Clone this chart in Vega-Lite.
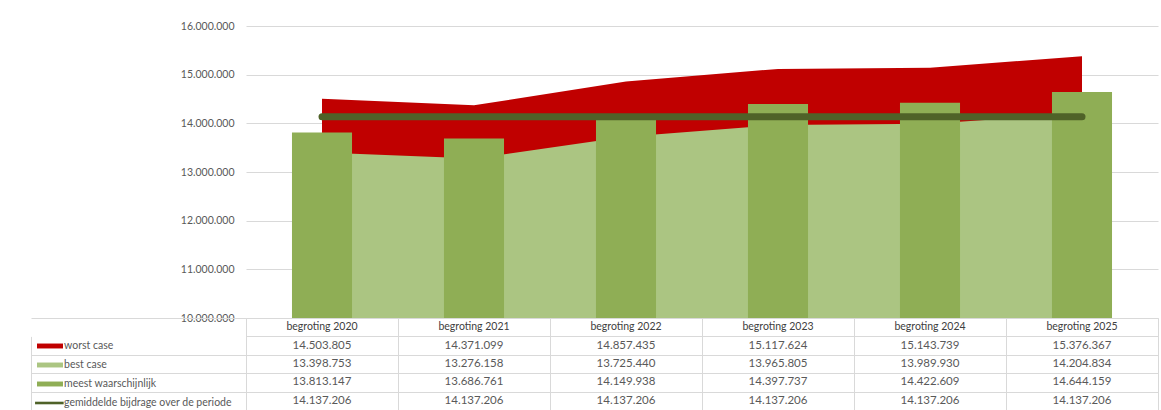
{
  "$schema": "https://vega.github.io/schema/vega-lite/v6.json",
  "padding": {"left": 30, "top": 21, "right": 4, "bottom": 0},
  "autosize": {"type": "pad"},
  "background": "white",
  "config": {
    "locale": {"number": {"decimal": ",", "thousands": ".", "grouping": [3], "currency": ["€", ""]}},
    "view": {"stroke": null},
    "font": "Lato"
  },
  "datasets": {
    "vals": [
      {"jaar": "begroting 2020", "reeks": "worst case", "waarde": 14503805},
      {"jaar": "begroting 2021", "reeks": "worst case", "waarde": 14371099},
      {"jaar": "begroting 2022", "reeks": "worst case", "waarde": 14857435},
      {"jaar": "begroting 2023", "reeks": "worst case", "waarde": 15117624},
      {"jaar": "begroting 2024", "reeks": "worst case", "waarde": 15143739},
      {"jaar": "begroting 2025", "reeks": "worst case", "waarde": 15376367},
      {"jaar": "begroting 2020", "reeks": "best case", "waarde": 13398753},
      {"jaar": "begroting 2021", "reeks": "best case", "waarde": 13276158},
      {"jaar": "begroting 2022", "reeks": "best case", "waarde": 13725440},
      {"jaar": "begroting 2023", "reeks": "best case", "waarde": 13965805},
      {"jaar": "begroting 2024", "reeks": "best case", "waarde": 13989930},
      {"jaar": "begroting 2025", "reeks": "best case", "waarde": 14204834},
      {"jaar": "begroting 2020", "reeks": "meest waarschijnlijk", "waarde": 13813147},
      {"jaar": "begroting 2021", "reeks": "meest waarschijnlijk", "waarde": 13686761},
      {"jaar": "begroting 2022", "reeks": "meest waarschijnlijk", "waarde": 14149938},
      {"jaar": "begroting 2023", "reeks": "meest waarschijnlijk", "waarde": 14397737},
      {"jaar": "begroting 2024", "reeks": "meest waarschijnlijk", "waarde": 14422609},
      {"jaar": "begroting 2025", "reeks": "meest waarschijnlijk", "waarde": 14644159},
      {"jaar": "begroting 2020", "reeks": "gemiddelde bijdrage over de periode", "waarde": 14137206},
      {"jaar": "begroting 2021", "reeks": "gemiddelde bijdrage over de periode", "waarde": 14137206},
      {"jaar": "begroting 2022", "reeks": "gemiddelde bijdrage over de periode", "waarde": 14137206},
      {"jaar": "begroting 2023", "reeks": "gemiddelde bijdrage over de periode", "waarde": 14137206},
      {"jaar": "begroting 2024", "reeks": "gemiddelde bijdrage over de periode", "waarde": 14137206},
      {"jaar": "begroting 2025", "reeks": "gemiddelde bijdrage over de periode", "waarde": 14137206}
    ]
  },
  "spacing": 0,
  "bounds": "flush",
  "resolve": {"scale": {"x": "independent", "y": "independent", "color": "independent"}, "legend": {"color": "independent"}},
  "vconcat": [
    {
      "width": 912,
      "height": 292,
      "data": {"name": "vals"},
      "encoding": {
        "x": {
          "field": "jaar", "type": "nominal",
          "scale": {"domain": ["begroting 2020", "begroting 2021", "begroting 2022", "begroting 2023", "begroting 2024", "begroting 2025"], "paddingInner": 0.605, "paddingOuter": 0.3025},
          "axis": null
        },
        "y": {
          "field": "waarde", "type": "quantitative",
          "scale": {"domain": [10000000, 16000000], "zero": false, "nice": false},
          "axis": {
            "values": [10000000, 11000000, 12000000, 13000000, 14000000, 15000000, 16000000],
            "format": ",d", "grid": true, "gridColor": "#d9d9d9", "domain": false, "ticks": false,
            "labelPadding": 12, "labelFontSize": 10.5, "labelColor": "#595959", "labelFont": "Lato", "title": null
          }
        }
      },
      "layer": [
        {
          "transform": [{"filter": "datum.reeks === 'worst case'"}],
          "mark": {"type": "area", "color": "#C00000"},
          "encoding": {"y2": {"datum": 10000000}}
        },
        {
          "transform": [{"filter": "datum.reeks === 'best case'"}],
          "mark": {"type": "area", "color": "#ABC582"},
          "encoding": {"y2": {"datum": 10000000}}
        },
        {
          "transform": [{"filter": "datum.reeks === 'meest waarschijnlijk'"}],
          "mark": {"type": "bar", "color": "#8FAE55"},
          "encoding": {"y2": {"datum": 10000000}}
        },
        {
          "transform": [{"filter": "datum.reeks === 'gemiddelde bijdrage over de periode'"}],
          "mark": {"type": "line", "color": "#4F6228", "strokeWidth": 7, "strokeCap": "round"},
          "encoding": {}
        }
      ]
    },
    {
      "width": 912,
      "height": 92,
      "data": {"name": "vals"},
      "encoding": {
        "x": {
          "field": "jaar", "type": "nominal",
          "scale": {"domain": ["begroting 2020", "begroting 2021", "begroting 2022", "begroting 2023", "begroting 2024", "begroting 2025"], "paddingInner": 0, "paddingOuter": 0},
          "axis": {"orient": "top", "labels": false, "ticks": false, "domain": false, "grid": true, "gridColor": "#d9d9d9", "tickBand": "extent", "title": null}
        },
        "y": {
          "field": "reeks", "type": "nominal",
          "scale": {"domain": ["hdr", "worst case", "best case", "meest waarschijnlijk", "gemiddelde bijdrage over de periode"], "paddingInner": 0, "paddingOuter": 0},
          "axis": {
            "labels": false, "grid": true, "gridColor": "#d9d9d9", "tickBand": "extent",
            "offset": 215, "domain": true, "domainColor": "#d9d9d9", "domainDash": [0, 18.4, 300],
            "ticks": true, "tickSize": -215, "tickColor": "#d9d9d9",
            "tickOpacity": {"expr": "datum.value === 'hdr' ? 0 : 1"}, "title": null
          }
        }
      },
      "layer": [
        {
          "mark": {"type": "text", "fontSize": 11.5, "color": "#595959", "font": "Lato"},
          "encoding": {"text": {"field": "waarde", "type": "quantitative", "format": ",d"}}
        },
        {
          "transform": [{"filter": "datum.reeks === 'worst case'"}],
          "mark": {"type": "text", "fontSize": 10.5, "color": "#404040", "font": "Lato"},
          "encoding": {"y": {"datum": "hdr"}, "text": {"field": "jaar", "type": "nominal"}}
        },
        {
          "mark": {"type": "point", "opacity": 0, "filled": true},
          "encoding": {
            "color": {
              "field": "reeks", "type": "nominal",
              "scale": {"domain": ["worst case", "best case", "meest waarschijnlijk", "gemiddelde bijdrage over de periode"], "range": ["#C00000", "#ABC582", "#8FAE55", "#4F6228"]},
              "legend": {
                "orient": "none", "legendX": -209, "legendY": 15, "title": null,
                "labelFont": "Lato", "labelFontSize": 10.5, "labelColor": "#595959", "labelLimit": 200,
                "symbolType": "M-1,-0.19H1V0.19H-1Z", "symbolSize": 676, "symbolStrokeWidth": 0, "symbolOpacity": 1,
                "rowPadding": -0.6, "labelOffset": 1, "padding": 0,
                "encode": {"symbols": {"update": {"shape": {"signal": "datum.value === 'gemiddelde bijdrage over de periode' ? 'M-1.15,-0.1H1.05V0.1H-1.15Z' : 'M-1,-0.19H1V0.19H-1Z'"}}}}
              }
            }
          }
        }
      ]
    }
  ]
}
